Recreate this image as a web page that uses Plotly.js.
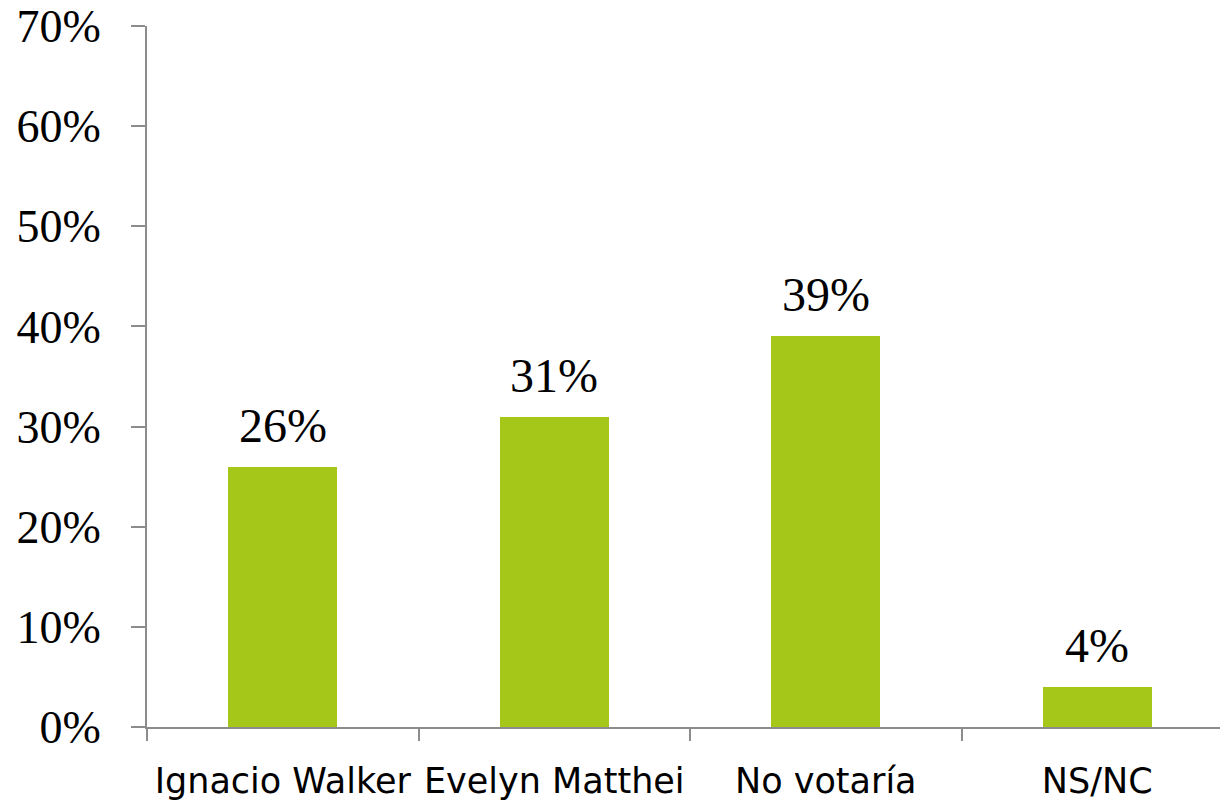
<!DOCTYPE html>
<html>
<head>
<meta charset="utf-8">
<script src="https://cdn.plot.ly/plotly-3.0.1.min.js"></script>
<style>html,body{margin:0;padding:0;background:#fff;}#chart{width:1220px;height:806px;}</style>
</head>
<body>
<div id="chart"></div>
<script>
const categories = ["Ignacio Walker", "Evelyn Matthei", "No votaría", "NS/NC"];
const values = [0.26, 0.31, 0.39, 0.04];
const valueLabels = ["26%", "31%", "39%", "4%"];
const yTickValues = [0, 0.1, 0.2, 0.3, 0.4, 0.5, 0.6, 0.7];
const yTickLabels = ["0%", "10%", "20%", "30%", "40%", "50%", "60%", "70%"];

const numFont = "Liberation Serif, serif";
const catFont = "DejaVu Sans, sans-serif";

const trace = {
  type: "bar",
  x: categories,
  y: values,
  width: 0.4,
  marker: {color: "#a4c71a"},
  hoverinfo: "none"
};

const annotations = categories.map((c, i) => ({
  x: c, y: values[i], xref: "x", yref: "y",
  text: valueLabels[i], showarrow: false,
  yanchor: "bottom", yshift: 13,
  font: {family: numFont, size: 48, color: "#000"}
}));

const layout = {
  width: 1220, height: 806,
  margin: {l: 147, r: 0, t: 26, b: 79},
  paper_bgcolor: "#fff", plot_bgcolor: "#fff",
  showlegend: false,
  bargap: 0,
  xaxis: {
    type: "category",
    range: [-0.5, 3.452],
    showline: true, linecolor: "#8c8c8c", linewidth: 2,
    ticks: "outside", tickson: "boundaries", ticklen: 12, tickwidth: 2, tickcolor: "#8c8c8c",
    tickfont: {family: catFont, size: 35, color: "#000"},
    tickangle: 0,
    ticklabelstandoff: 22,
    showgrid: false, zeroline: false, fixedrange: true
  },
  yaxis: {
    range: [0, 0.7],
    tickvals: yTickValues, ticktext: yTickLabels,
    showline: true, linecolor: "#8c8c8c", linewidth: 2,
    ticks: "outside", ticklen: 14, tickwidth: 2, tickcolor: "#8c8c8c",
    tickfont: {family: numFont, size: 46, color: "#000"},
    ticklabelstandoff: 21,
    showgrid: false, zeroline: false, fixedrange: true
  },
  annotations: annotations
};

Plotly.newPlot("chart", [trace], layout, {staticPlot: true, displayModeBar: false});
</script>
</body>
</html>
